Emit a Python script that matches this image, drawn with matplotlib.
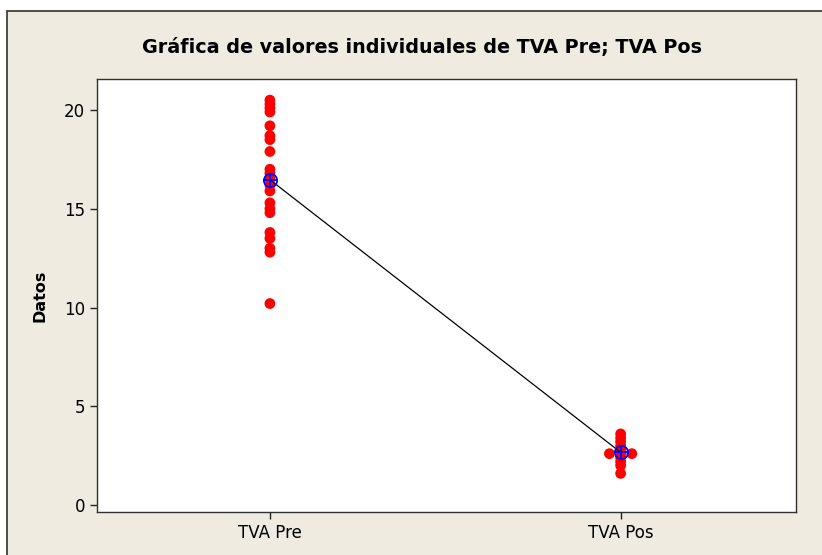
import numpy as np
import matplotlib
matplotlib.use("Agg")
import matplotlib.pyplot as plt
from matplotlib.patches import Rectangle

categories = ["TVA Pre", "TVA Pos"]
tva_pre = [20.5, 20.3, 20.1, 19.9, 19.2, 18.7, 18.5, 17.9, 17.0, 16.8, 16.5,
           16.2, 15.9, 15.3, 15.0, 14.8, 13.8, 13.5, 13.0, 12.8, 10.2]
tva_pos = [3.6, 3.4, 3.2, 3.0, 2.8, 2.6, 2.6, 2.6, 2.4, 2.2, 2.0, 1.6]
series = [tva_pre, tva_pos]
yticks = [0, 5, 10, 15, 20]
title = "Gráfica de valores individuales de TVA Pre; TVA Pos"
ylabel = "Datos"

W, H = 822, 555
fig = plt.figure(figsize=(W / 100, H / 100), dpi=100, facecolor="white")
bg = Rectangle((7 / W, -0.01), 1, 1.01 - 11 / H, transform=fig.transFigure,
               facecolor="#EFEBE1", edgecolor="#404040", linewidth=1.3, zorder=-10)
fig.add_artist(bg)

ax = fig.add_axes([97 / W, 1 - 512 / H, (796 - 97) / W, (512 - 79) / H])
ax.set_zorder(5)
ax.set_facecolor("white")

means = []
for i, vals in enumerate(series):
    vals = np.array(vals)
    xs = np.full(len(vals), float(i))
    # spread duplicate values horizontally (as in an individual value plot)
    for v in np.unique(vals):
        idx = np.where(vals == v)[0]
        n = len(idx)
        if n > 1:
            offs = (np.arange(n) - (n - 1) / 2) * 0.032
            xs[idx] = i + offs
    ax.scatter(xs, vals, s=60, color="#FF0000", edgecolors="none", zorder=2)
    means.append(vals.mean())

xpos = np.arange(len(categories))
ax.plot(xpos, means, color="black", linewidth=0.9, zorder=3)
ax.plot(xpos, means, linestyle="none", marker="o", markersize=9.5,
        markerfacecolor="none", markeredgecolor="#0000FF", markeredgewidth=1.3, zorder=4)
ax.plot(xpos, means, linestyle="none", marker="+", markersize=9.5,
        markeredgecolor="#0000FF", markeredgewidth=1.3, zorder=4)

ax.set_xlim(-0.493, 1.5)
ax.set_ylim(-0.354, 21.57)
ax.set_xticks(xpos)
ax.set_xticklabels(categories)
ax.set_yticks(yticks)
ax.tick_params(axis="both", direction="out", length=5, width=1, colors="#202020",
               labelsize=12, labelcolor="black")
for s in ax.spines.values():
    s.set_color("#303030")
    s.set_linewidth(1.0)

ax.set_ylabel(ylabel, fontsize=11.5, fontweight="bold", labelpad=12)
fig.text(422 / W, 1 - 48 / H, title, ha="center", va="center",
         fontsize=13.8, fontweight="bold")

fig.savefig("out.png", dpi=100, facecolor="white")
